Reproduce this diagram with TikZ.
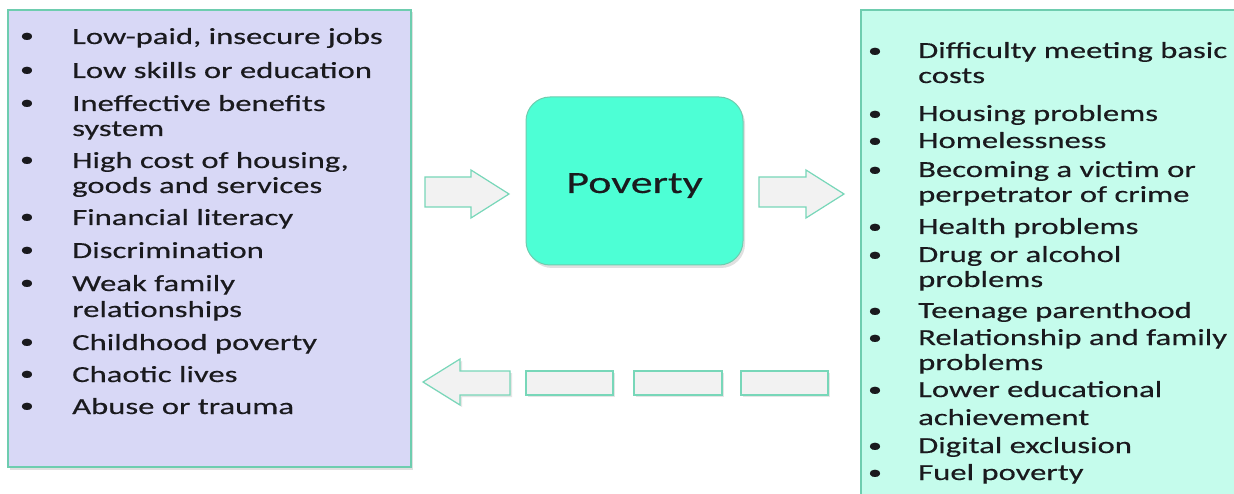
\documentclass[tikz,border=0pt]{standalone}
\usepackage{fontspec}
\setmainfont{Carlito}[FakeStretch=1.42,FakeBold=0.35]
\definecolor{leftfill}{RGB}{216,216,246}
\definecolor{rightfill}{RGB}{197,252,236}
\definecolor{povfill}{RGB}{77,255,213}
\definecolor{boxdraw}{RGB}{110,205,175}
\definecolor{arrfill}{RGB}{242,242,242}
\definecolor{arrdraw}{RGB}{120,215,185}
\definecolor{txt}{RGB}{26,26,30}
\begin{document}
\begin{tikzpicture}[x=1pt,y=-1pt,
  item/.style={anchor=base west,inner sep=0pt,text=txt,font=\fontsize{23}{25}\selectfont},
  bul/.style={anchor=base,inner sep=0pt,text=txt,font=\fontsize{20}{22}\selectfont},
  panel/.style={draw=boxdraw,line width=1.6pt},
  blockarrow/.style={draw=arrdraw,fill=arrfill,line width=1.2pt,line join=miter}]
\useasboundingbox (0,0) rectangle (1234,494);
\fill[white] (0,0) rectangle (1234,494);
% panels
\fill[black!12] (10,12) rectangle (413,469.5);
\draw[panel,fill=leftfill] (8,10) rectangle (411,467);
\draw[panel,fill=rightfill] (861,10) rectangle (1240,500);
% poverty box
\fill[black!12,rounded corners=24pt] (528,100) rectangle (745,268);
\node[draw=boxdraw,fill=povfill,line width=1pt,rounded corners=24pt,minimum width=217pt,minimum height=168pt,inner sep=0pt] (pov) at (634.5,181) {};
\node[anchor=base,inner sep=0pt,text=txt,font=\fontsize{31}{33}\selectfont] (povtxt) at (634.5,193) {Poverty};
% block arrows
\draw[blockarrow] (425,177) -- (471,177) -- (471,170) -- (509,194) -- (471,218) -- (471,207) -- (425,207) -- cycle;
\draw[blockarrow] (759,177) -- (806,177) -- (806,170) -- (844,194) -- (806,218) -- (806,207) -- (759,207) -- cycle;
\fill[black!10] (512,373) -- (462,373) -- (462,361) -- (425,384) -- (462,407) -- (462,397) -- (512,397) -- cycle;
\draw[blockarrow] (510,371) -- (460,371) -- (460,359) -- (423,382) -- (460,405) -- (460,395) -- (510,395) -- cycle;
\fill[black!10] (528,373) rectangle (615,397);
\fill[black!10] (636,373) rectangle (724,397);
\fill[black!10] (743,373) rectangle (830,397);
\node[draw=arrdraw,fill=arrfill,line width=1.2pt,minimum width=87pt,minimum height=24pt,inner sep=0pt] (r1) at (569.5,383) {};
\node[draw=arrdraw,fill=arrfill,line width=1.2pt,minimum width=88pt,minimum height=24pt,inner sep=0pt] (r2) at (678,383) {};
\node[draw=arrdraw,fill=arrfill,line width=1.2pt,minimum width=87pt,minimum height=24pt,inner sep=0pt] (r3) at (784.5,383) {};
% left list
\foreach \y/\t [count=\i] in {44/{Low-paid, insecure jobs},78/{Low skills or education},111/{Ineffective benefits},168/{High cost of housing,},225/{Financial literacy},258/{Discrimination},291/{Weak family},350/{Childhood poverty},382/{Chaotic lives},414/{Abuse or trauma}}{
  \node[bul] (lb\i) at (27,\y-2) {•};
  \node[item] (lt\i) at (72,\y) {\t};
}
\node[item] (lc1) at (72,136) {system};
\node[item] (lc2) at (72,193) {goods and services};
\node[item] (lc3) at (72,317) {relationships};
% right list
\foreach \y/\t [count=\i] in {58/{Difficulty meeting basic},121/{Housing problems},148/{Homelessness},177/{Becoming a victim or},234/{Health problems},262/{Drug or alcohol},318/{Teenage parenthood},345/{Relationship and family},397/{Lower educational},453/{Digital exclusion},480/{Fuel poverty}}{
  \node[bul] (rb\i) at (875,\y-1) {•};
  \node[item] (rt\i) at (918,\y) {\t};
}
\node[item] (rc1) at (918,83) {costs};
\node[item] (rc2) at (918,202) {perpetrator of crime};
\node[item] (rc3) at (918,287) {problems};
\node[item] (rc4) at (918,370) {problems};
\node[item] (rc5) at (918,425) {achievement};
\end{tikzpicture}
\end{document}
